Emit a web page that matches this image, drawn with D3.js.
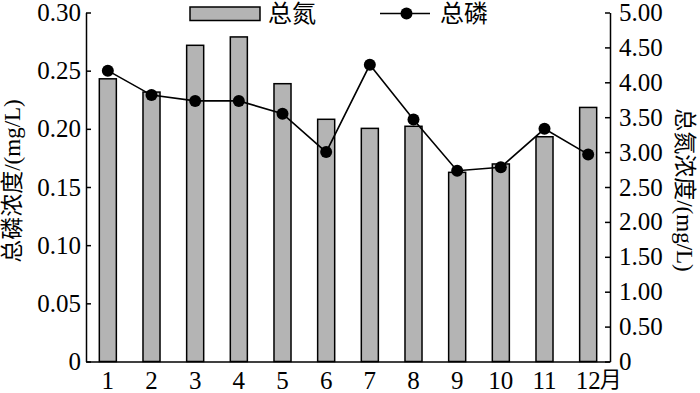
<!DOCTYPE html>
<html>
<head>
<meta charset="utf-8">
<script src="https://cdn.jsdelivr.net/npm/d3@7"></script>
<style>
    body { margin: 0; background: #fff; }
    svg text { font-family: "Liberation Serif", "Noto Sans CJK SC", serif; fill: #000; }
</style>
</head>
<body>
<div id="chart"></div>
<script>
// months on the x axis
const months = ['1', '2', '3', '4', '5', '6', '7', '8', '9', '10', '11', '12'];
// total nitrogen (mg/L), right axis, bars
const totalN = [4.05, 3.86, 4.53, 4.65, 3.98, 3.47, 3.34, 3.37, 2.71, 2.83, 3.22, 3.64];
// total phosphorus (mg/L), left axis, line
const totalP = [0.250, 0.229, 0.224, 0.224, 0.213, 0.180, 0.255, 0.208, 0.164, 0.167, 0.200, 0.178];
const leftTicks = [0, 0.05, 0.10, 0.15, 0.20, 0.25, 0.30];
const rightTicks = [0, 0.5, 1, 1.5, 2, 2.5, 3, 3.5, 4, 4.5, 5];

let width = 700,
    height = 393,
    plotLeft = 86,
    plotRight = 610,
    plotTop = 12.5,
    plotBottom = 361.5;

let svg = d3.select('#chart').append('svg')
    .attr('width', width)
    .attr('height', height);

let x = d3.scaleBand().domain(months).range([plotLeft, plotRight]);
let yP = d3.scaleLinear().domain([0, 0.30]).range([plotBottom, plotTop]);
let yN = d3.scaleLinear().domain([0, 5]).range([plotBottom, plotTop]);

let fmt = d => d === 0 ? '0' : d3.format('.2f')(d);

// bars (total nitrogen)
let barW = x.bandwidth() * 0.39;
svg.append('g').selectAll('rect')
    .data(totalN)
    .join('rect')
    .attr('x', (d, i) => x(months[i]) + x.bandwidth() / 2 - barW / 2)
    .attr('y', d => yN(d))
    .attr('width', barW)
    .attr('height', d => plotBottom - yN(d))
    .attr('fill', '#b4b4b4')
    .attr('stroke', '#000')
    .attr('stroke-width', 1.5);

// axes
let gl = svg.append('g')
    .attr('transform', 'translate(' + plotLeft + ',0)')
    .call(d3.axisLeft(yP).tickValues(leftTicks).tickFormat(fmt).tickSize(-5).tickSizeOuter(0).tickPadding(5));
let gr = svg.append('g')
    .attr('transform', 'translate(' + plotRight + ',0)')
    .call(d3.axisRight(yN).tickValues(rightTicks).tickFormat(fmt).tickSize(-5).tickSizeOuter(0).tickPadding(9));
let gb = svg.append('g')
    .attr('transform', 'translate(0,' + plotBottom + ')')
    .call(d3.axisBottom(x).tickSize(0).tickPadding(10));

[gl, gr, gb].forEach(g => {
    g.selectAll('path, line').attr('stroke', '#000').attr('stroke-width', 1.5);
    g.selectAll('text').style('font-size', '25px');
});

// "月" after the last month label
let lastTick = gb.selectAll('.tick text').nodes().pop();
let lastW = lastTick.getComputedTextLength();
gb.append('text')
    .attr('x', x('12') + x.bandwidth() / 2 + lastW / 2 - 1)
    .attr('y', 10)
    .attr('dy', '0.71em')
    .attr('text-anchor', 'start')
    .style('font-size', '22px')
    .text('月');

// line (total phosphorus)
let line = d3.line()
    .x((d, i) => x(months[i]) + x.bandwidth() / 2)
    .y(d => yP(d));
svg.append('path')
    .attr('d', line(totalP))
    .attr('fill', 'none')
    .attr('stroke', '#000')
    .attr('stroke-width', 1.6);
svg.append('g').selectAll('circle')
    .data(totalP)
    .join('circle')
    .attr('cx', (d, i) => x(months[i]) + x.bandwidth() / 2)
    .attr('cy', d => yP(d))
    .attr('r', 6)
    .attr('fill', '#000');

// axis titles
svg.append('text')
    .attr('transform', 'translate(12,181) rotate(-90)')
    .attr('text-anchor', 'middle')
    .attr('dominant-baseline', 'central')
    .style('font-size', '23px')
    .text('总磷浓度/(mg/L)');
svg.append('text')
    .attr('transform', 'translate(684,190) rotate(90)')
    .attr('text-anchor', 'middle')
    .attr('dominant-baseline', 'central')
    .style('font-size', '23px')
    .text('总氮浓度/(mg/L)');

// legend
let legend = svg.append('g');
legend.append('rect')
    .attr('x', 190).attr('y', 7)
    .attr('width', 70).attr('height', 13.5)
    .attr('fill', '#b4b4b4')
    .attr('stroke', '#000')
    .attr('stroke-width', 1.5);
legend.append('text')
    .attr('x', 268).attr('y', 13.5)
    .attr('dominant-baseline', 'central')
    .style('font-size', '24px')
    .text('总氮');
legend.append('line')
    .attr('x1', 380).attr('x2', 430)
    .attr('y1', 13.5).attr('y2', 13.5)
    .attr('stroke', '#000')
    .attr('stroke-width', 1.6);
legend.append('circle')
    .attr('cx', 406.5).attr('cy', 13.5)
    .attr('r', 6)
    .attr('fill', '#000');
legend.append('text')
    .attr('x', 440).attr('y', 13.5)
    .attr('dominant-baseline', 'central')
    .style('font-size', '24px')
    .text('总磷');
</script>
</body>
</html>
